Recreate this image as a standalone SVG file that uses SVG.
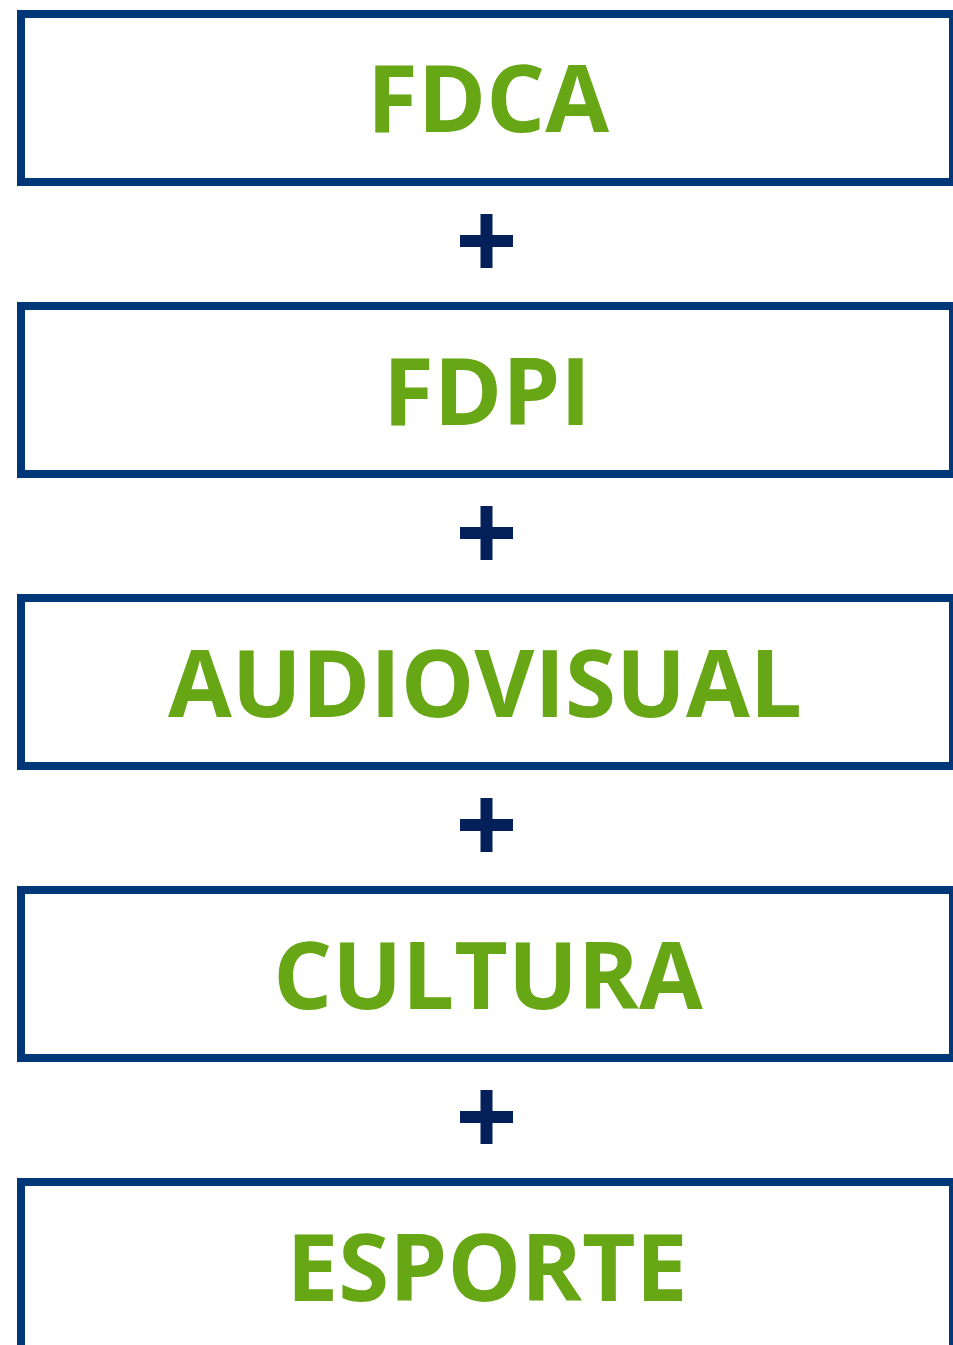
<svg xmlns="http://www.w3.org/2000/svg" width="953" height="1345" viewBox="0 0 953 1345">
<style>
.box{fill:#ffffff;stroke:#003778;stroke-width:8}
.lbl{font-family:"Open Sans","Liberation Sans",sans-serif;font-weight:700;font-size:92.5px;fill:#67a615;text-anchor:middle}
.plus{fill:#03205a}
</style>
<defs>
<path id="plus" d="M480.5 214h12v21h20.5v12h-20.5v21h-12v-21h-20.5v-12h20.5z"/>
</defs>
<rect width="953" height="1345" fill="#ffffff"/>
<g id="connectors">
<use href="#plus" class="plus" y="0"/>
<use href="#plus" class="plus" y="292"/>
<use href="#plus" class="plus" y="584"/>
<use href="#plus" class="plus" y="876"/>
</g>
<g id="fdca"><rect class="box" x="21" y="14" width="932" height="168"/><text class="lbl" x="488" y="132">FDCA</text></g>
<g id="fdpi"><rect class="box" x="21" y="306" width="932" height="168"/><text class="lbl" x="487" y="425">FDPI</text></g>
<g id="audiovisual"><rect class="box" x="21" y="598" width="932" height="168"/><text class="lbl" x="485" y="717">AUDIOVISUAL</text></g>
<g id="cultura"><rect class="box" x="21" y="890" width="932" height="168"/><text class="lbl" x="488" y="1009">CULTURA</text></g>
<g id="esporte"><rect class="box" x="21" y="1182" width="932" height="200"/><text class="lbl" x="487" y="1301">ESPORTE</text></g>
</svg>
